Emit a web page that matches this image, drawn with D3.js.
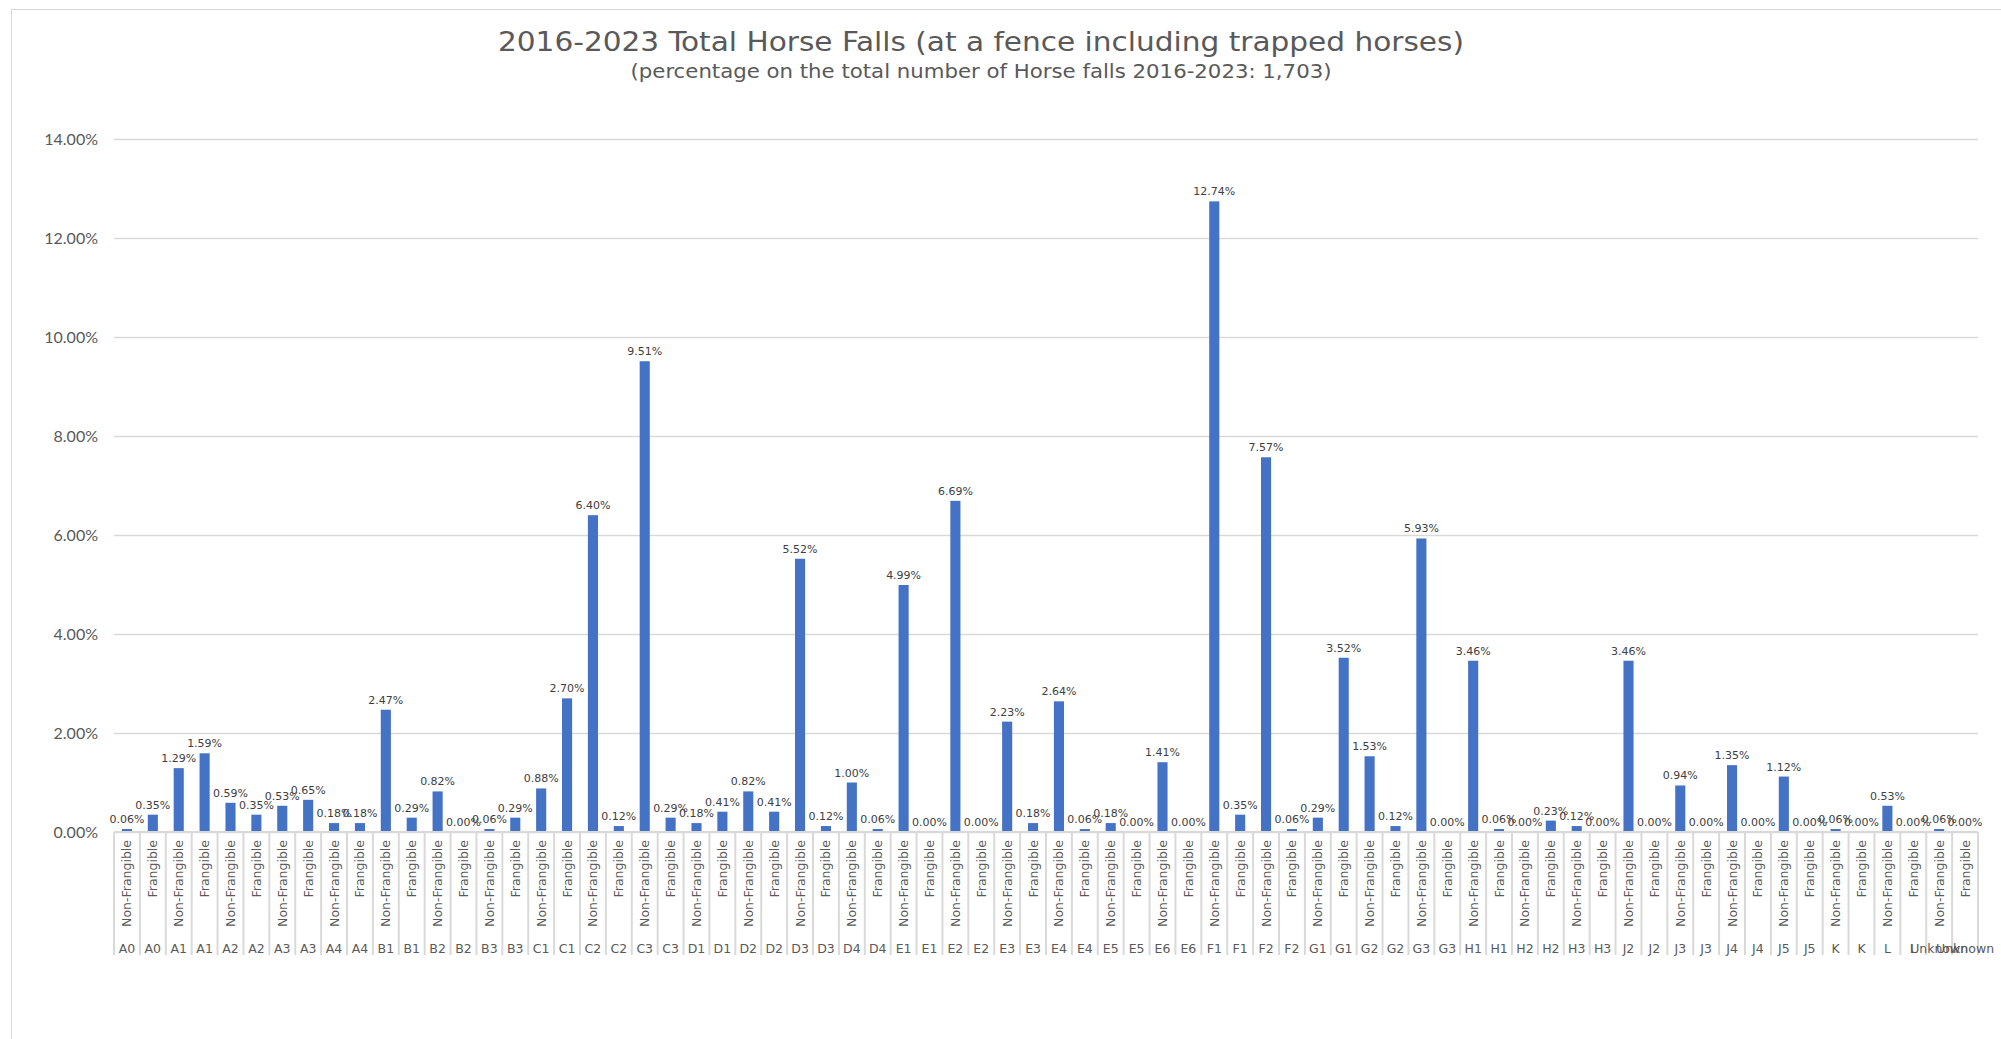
<!DOCTYPE html>
<html>
<head>
<meta charset="utf-8">
<script src="https://cdn.jsdelivr.net/npm/d3@7/dist/d3.min.js"></script>
<style>
  html, body { margin: 0; padding: 0; background: #fff; }
  svg { display: block; }
</style>
</head>
<body>
<div id="chart"></div>
<script>
// fence groups, each has a Non-Frangible and a Frangible bar
var groups = ['A0','A1','A2','A3','A4','B1','B2','B3','C1','C2','C3','D1','D2','D3','D4',
  'E1','E2','E3','E4','E5','E6','F1','F2','G1','G2','G3','H1','H2','H3','J2','J3','J4','J5',
  'K','L','Unknown'];
var fenceTypes = ['Non-Frangible', 'Frangible'];
var nonFrangible = [0.06,1.29,0.59,0.53,0.18,2.47,0.82,0.06,0.88,6.40,9.51,0.18,0.82,5.52,1.00,
  4.99,6.69,2.23,2.64,0.18,1.41,12.74,7.57,0.29,1.53,5.93,3.46,0.00,0.12,3.46,0.94,1.35,1.12,
  0.06,0.53,0.06];
var frangible = [0.35,1.59,0.35,0.65,0.18,0.29,0.00,0.29,2.70,0.12,0.29,0.41,0.41,0.12,0.06,
  0.00,0.00,0.18,0.06,0.00,0.00,0.35,0.06,3.52,0.12,0.00,0.06,0.23,0.00,0.00,0.00,0.00,0.00,
  0.00,0.00,0.00];
var yTicks = [0, 2, 4, 6, 8, 10, 12, 14];

var titleText = '2016-2023 Total Horse Falls (at a fence including trapped horses)';
var subtitleText = '(percentage on the total number of Horse falls 2016-2023: 1,703)';

// flatten into one row per bar
var rows = [];
groups.forEach(function(g, i) {
  rows.push({group: g, type: fenceTypes[0], value: nonFrangible[i]});
  rows.push({group: g, type: fenceTypes[1], value: frangible[i]});
});
rows.forEach(function(r, i) { r.idx = i; });

var W = 2001, H = 1039;
var margin = {left: 114, right: 23, top: 139, bottom: 207};
var grey = '#595959';

var svg = d3.select('#chart').append('svg')
  .attr('width', W)
  .attr('height', H);

// chart area border
svg.append('rect')
  .attr('x', 11.5).attr('y', 9.5)
  .attr('width', W).attr('height', H)
  .attr('fill', 'none')
  .attr('stroke', '#d9d9d9')
  .attr('stroke-width', 1);

var x = d3.scaleBand()
  .domain(rows.map(function(d){ return d.idx; }))
  .range([margin.left, W - margin.right])
  .paddingInner(0.61)
  .paddingOuter(0.305);

var y = d3.scaleLinear()
  .domain([0, 14])
  .range([H - margin.bottom, margin.top]);

// gridlines + y labels
var yAxis = d3.axisLeft(y)
  .tickValues(yTicks)
  .tickSize(-(W - margin.right - margin.left))
  .tickPadding(16)
  .tickFormat(function(v){ return v.toFixed(2) + '%'; });

var gy = svg.append('g')
  .attr('transform', 'translate(' + margin.left + ',0)')
  .call(yAxis);
gy.select('.domain').remove();
gy.selectAll('.tick line').attr('stroke', '#d9d9d9').attr('stroke-width', 1.5);
gy.selectAll('.tick text')
  .attr('fill', grey)
  .style('font-family', 'Lato, "Liberation Sans", sans-serif')
  .style('font-size', '16px');

// bars
svg.append('g').selectAll('rect')
  .data(rows)
  .enter().append('rect')
  .attr('x', function(d){ return x(d.idx); })
  .attr('y', function(d){ return y(d.value); })
  .attr('width', x.bandwidth())
  .attr('height', function(d){ return y(0) - y(d.value); })
  .attr('fill', '#4472c4');

// data labels
svg.append('g').selectAll('text')
  .data(rows)
  .enter().append('text')
  .attr('x', function(d){ return x(d.idx) + x.bandwidth() / 2; })
  .attr('y', function(d){ return y(d.value) - 6; })
  .attr('text-anchor', 'middle')
  .attr('fill', '#404040')
  .style('font-family', '"DejaVu Sans", Verdana, sans-serif')
  .style('font-size', '11px')
  .text(function(d){ return d.value.toFixed(2) + '%'; });

// category axis: baseline, separators, two label levels
var step = x.step();
var x0 = margin.left, y0 = y(0);
var cat = svg.append('g');
cat.append('line')
  .attr('x1', x0).attr('x2', W - margin.right)
  .attr('y1', y0).attr('y2', y0)
  .attr('stroke', '#d9d9d9').attr('stroke-width', 2);

var bounds = d3.range(rows.length + 1);
cat.selectAll('line.sep')
  .data(bounds)
  .enter().append('line')
  .attr('class', 'sep')
  .attr('x1', function(i){ return x0 + i * step; })
  .attr('x2', function(i){ return x0 + i * step; })
  .attr('y1', y0).attr('y2', y0 + 123)
  .attr('stroke', '#d9d9d9').attr('stroke-width', 2);

cat.selectAll('text.type')
  .data(rows)
  .enter().append('text')
  .attr('class', 'type')
  .attr('transform', function(d){
    return 'translate(' + (x(d.idx) + x.bandwidth() / 2 + 4.5) + ',' + (y0 + 8) + ') rotate(-90)';
  })
  .attr('text-anchor', 'end')
  .attr('fill', grey)
  .style('font-family', '"DejaVu Sans", Verdana, sans-serif')
  .style('font-size', '12.5px')
  .text(function(d){ return d.type; });

cat.selectAll('text.grp')
  .data(rows)
  .enter().append('text')
  .attr('class', 'grp')
  .attr('x', function(d){ return x(d.idx) + x.bandwidth() / 2; })
  .attr('y', y0 + 121)
  .attr('text-anchor', 'middle')
  .attr('fill', grey)
  .style('font-family', '"DejaVu Sans", Verdana, sans-serif')
  .style('font-size', '12.5px')
  .text(function(d){ return d.group; });

// titles
var cx = 981;
svg.append('text')
  .attr('x', cx).attr('y', 51)
  .attr('text-anchor', 'middle')
  .attr('fill', grey)
  .attr('textLength', 966)
  .attr('lengthAdjust', 'spacingAndGlyphs')
  .style('font-family', '"DejaVu Sans Condensed", "DejaVu Sans", sans-serif')
  .style('font-size', '26px')
  .text(titleText);

svg.append('text')
  .attr('x', cx).attr('y', 78)
  .attr('text-anchor', 'middle')
  .attr('fill', grey)
  .attr('textLength', 701)
  .attr('lengthAdjust', 'spacingAndGlyphs')
  .style('font-family', '"DejaVu Sans Condensed", "DejaVu Sans", sans-serif')
  .style('font-size', '19px')
  .text(subtitleText);
</script>
</body>
</html>
